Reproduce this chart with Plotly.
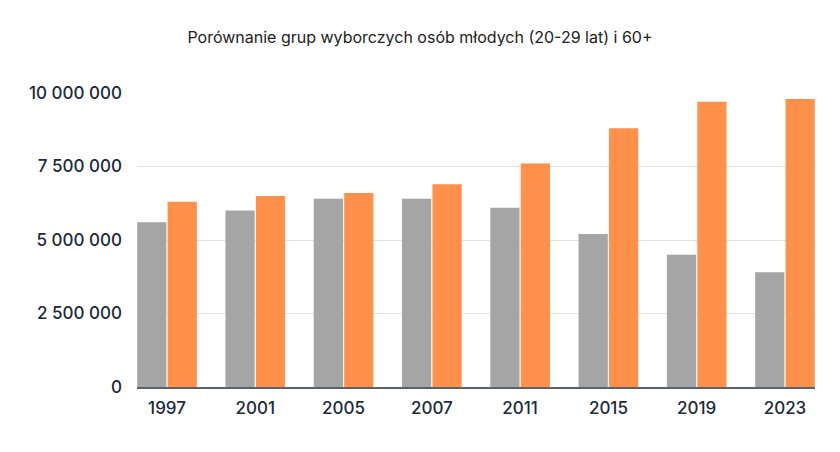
import plotly.graph_objects as go

years = ["1997", "2001", "2005", "2007", "2011", "2015", "2019", "2023"]
young = [5600000, 6000000, 6400000, 6400000, 6100000, 5200000, 4500000, 3900000]
senior = [6300000, 6500000, 6600000, 6900000, 7600000, 8800000, 9700000, 9800000]
tick_vals = [0, 2500000, 5000000, 7500000, 10000000]
tick_text = ["0", "2 500 000", "5 000 000", "7 500 000", "10 000 000"]
title_text = "Porównanie grup wyborczych osób młodych (20-29 lat) i 60+"

fig = go.Figure()
fig.add_trace(go.Bar(x=years, y=young, name="20-29 lat", marker=dict(color="#a5a5a5", line=dict(width=0))))
fig.add_trace(go.Bar(x=years, y=senior, name="60+", marker=dict(color="#ff914d", line=dict(width=0))))

fig.update_layout(
    width=840, height=452,
    margin=dict(l=137, r=25, t=93, b=65),
    paper_bgcolor="white", plot_bgcolor="white",
    showlegend=False,
    barmode="group", bargap=0.31, bargroupgap=0.04,
    title=dict(text=title_text, x=0.5, xref="container", xanchor="center", y=0.918, yanchor="middle",
               font=dict(family="Inter, Open Sans, sans-serif", size=16, color="#222222")),
    font=dict(family="Inter, Open Sans, sans-serif"),
)
fig.update_xaxes(
    type="category", range=[-0.34, 7.34],
    showline=True, linecolor="#5a6270", linewidth=1.5,
    ticks="", tickfont=dict(size=17, color="#1c2a3a", weight=500),
    ticklabelstandoff=5,
    showgrid=False,
)
fig.update_yaxes(
    range=[0, 10000000], tickvals=tick_vals, ticktext=tick_text,
    showgrid=True, gridcolor="#e3e3e6", gridwidth=1.2,
    zeroline=False, ticks="", ticklabelstandoff=14,
    tickfont=dict(size=17, color="#1c2a3a", weight=500),
)
fig.write_html("out.html")
